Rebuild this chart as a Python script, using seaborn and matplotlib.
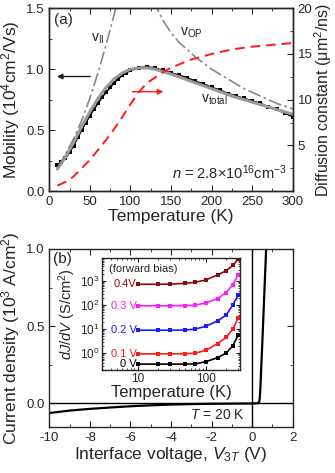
import matplotlib
matplotlib.use("Agg")
import matplotlib.pyplot as plt
import seaborn as sns
from matplotlib.ticker import MultipleLocator, LogLocator, NullFormatter, FixedLocator

# ---- panel (a): mobility vs temperature
temp_meas = [10, 15, 20, 25, 30, 35, 40, 45, 50, 55, 60, 65, 70, 75, 80, 85, 90, 95,
             100, 110, 120, 130, 140, 150, 160, 170, 180, 190, 200, 210, 220, 230,
             240, 250, 260, 270, 280, 290, 300]
mob_meas = [0.21, 0.24, 0.27, 0.32, 0.37, 0.44, 0.50, 0.56, 0.62, 0.67, 0.72, 0.77,
            0.81, 0.85, 0.89, 0.92, 0.95, 0.97, 0.99, 1.01, 1.02, 1.01, 0.99, 0.97,
            0.95, 0.93, 0.90, 0.88, 0.85, 0.83, 0.80, 0.78, 0.76, 0.74, 0.72, 0.69,
            0.67, 0.64, 0.61]

temp_fit = [10, 20, 30, 40, 50, 60, 70, 80, 90, 100, 110, 120, 130, 140, 150, 175,
            200, 225, 250, 275, 300]
mob_fit = [0.18, 0.28, 0.40, 0.53, 0.65, 0.76, 0.85, 0.92, 0.97, 1.00, 1.01, 1.01,
           1.00, 0.98, 0.96, 0.90, 0.84, 0.78, 0.73, 0.68, 0.63]

temp_ii = [10, 20, 30, 40, 50, 60, 70, 80, 85]
mob_ii = [0.19, 0.30, 0.43, 0.58, 0.76, 0.97, 1.20, 1.45, 1.58]

temp_op = [128, 140, 150, 160, 180, 200, 220, 240, 260, 280, 300]
mob_op = [1.57, 1.40, 1.30, 1.22, 1.10, 1.00, 0.92, 0.84, 0.78, 0.72, 0.675]

temp_diff = [10, 20, 30, 40, 50, 60, 70, 80, 90, 100, 110, 120, 130, 140, 150, 175,
             200, 225, 250, 275, 300]
diff_const = [0.6, 1.0, 1.6, 2.5, 3.4, 4.5, 5.6, 6.8, 8.1, 9.5, 10.8, 11.8, 12.4,
              13.0, 13.5, 14.4, 15.0, 15.5, 15.8, 16.0, 16.2]

# ---- panel (b): J-V at 20 K
volt = [-10, -9, -8, -7, -6, -5, -4, -3, -2, -1, 0, 0.2, 0.3, 0.34, 0.37, 0.4,
        0.5, 0.6, 0.7]
cur = [-0.062, -0.046, -0.035, -0.026, -0.018, -0.012, -0.007, -0.004, -0.002,
       -0.001, 0.0, 0.001, 0.002, 0.01, 0.03, 0.09, 0.40, 0.72, 1.04]

# ---- inset: dJ/dV vs temperature (forward bias)
temp_inset = [10, 20, 30, 50, 70, 100, 150, 200, 250, 300]
bias_labels = ["0 V", "0.1 V", "0.2 V", "0.3 V", "0.4V"]
bias_colors = ["black", "#ff1a1a", "#1a1aff", "#ff1aff", "#8b0a0a"]
g_0v = [0.35, 0.35, 0.35, 0.35, 0.36, 0.44, 0.65, 1.0, 2.0, 5.6]
g_01v = [0.93, 0.93, 0.93, 0.95, 1.0, 1.3, 2.5, 4.5, 10, 28]
g_02v = [9, 9, 9, 9.2, 10, 13, 22, 38, 100, 250]
g_03v = [93, 93, 93, 95, 98, 123, 186, 330, 690, 1780]
g_04v = [730, 730, 740, 800, 880, 1100, 1780, 2650, 4400, 8100]

sns.set_style("ticks")
plt.rcParams.update({
    "font.family": ["Liberation Sans", "DejaVu Sans"],
    "mathtext.fontset": "custom",
    "mathtext.rm": "Liberation Sans",
    "mathtext.it": "Liberation Sans:italic",
    "mathtext.bf": "Liberation Sans:bold",
    "axes.unicode_minus": False,
    "axes.linewidth": 1.0,
    "xtick.direction": "in",
    "ytick.direction": "in",
    "xtick.major.size": 4,
    "ytick.major.size": 4,
    "xtick.minor.size": 2,
    "ytick.minor.size": 2,
    "xtick.labelsize": 9.5,
    "ytick.labelsize": 9.5,
    "axes.labelsize": 12.5,
})

fig = plt.figure(figsize=(3.35, 4.73), dpi=100)

# ---------------- (a)
ax_a = fig.add_axes([0.147, 0.596, 0.727, 0.3865])
sns.lineplot(x=temp_meas, y=mob_meas, ax=ax_a, color="black", marker="s",
             markersize=3.5, markeredgewidth=0, linewidth=1.2)
sns.lineplot(x=temp_fit, y=mob_fit, ax=ax_a, color="#9a9a9a", linewidth=2.2)
sns.lineplot(x=temp_ii, y=mob_ii, ax=ax_a, color="#888888", linewidth=1.2,
             linestyle=(0, (8, 2, 1.5, 2)))
sns.lineplot(x=temp_op, y=mob_op, ax=ax_a, color="#888888", linewidth=1.2,
             linestyle=(0, (8, 2, 1.5, 2)))
ax_a.set_xlim(0, 300)
ax_a.set_ylim(0, 1.5)
ax_a.xaxis.set_major_locator(MultipleLocator(50))
ax_a.xaxis.set_minor_locator(MultipleLocator(25))
ax_a.yaxis.set_major_locator(MultipleLocator(0.5))
ax_a.yaxis.set_minor_locator(MultipleLocator(0.25))
ax_a.yaxis.set_major_formatter(matplotlib.ticker.FormatStrFormatter("%.1f"))
ax_a.tick_params(which="both", top=True, right=False)
ax_a.set_xlabel("Temperature (K)", labelpad=1)
ax_a.set_ylabel("Mobility (10$^4$cm$^2$/Vs)", labelpad=3)

ax_r = ax_a.twinx()
sns.lineplot(x=temp_diff, y=diff_const, ax=ax_r, color="#ff1a1a", linewidth=1.4,
             linestyle=(0, (5, 3)))
ax_r.set_ylim(0, 20)
ax_r.yaxis.set_major_locator(FixedLocator([5, 10, 15, 20]))
ax_r.yaxis.set_minor_locator(MultipleLocator(2.5))
ax_r.tick_params(which="both", direction="in", right=True)
ax_r.set_ylabel("Diffusion constant (μm$^2$/ns)", fontsize=11.5, labelpad=0)

ax_a.text(0.02, 0.975, "(a)", transform=ax_a.transAxes, fontsize=11,
          ha="left", va="top")
ax_a.text(60, 1.25, "v$_{\\rm II}$", fontsize=10, ha="center", va="center")
ax_a.text(175, 1.30, "v$_{\\rm OP}$", fontsize=10, ha="center", va="center")
ax_a.text(203, 0.75, "v$_{\\rm total}$", fontsize=10, ha="center", va="center")
ax_a.text(293, 0.15, "$n$ = 2.8×10$^{16}$cm$^{-3}$", fontsize=10.5,
          ha="right", va="center")
ax_a.annotate("", xy=(6, 0.94), xytext=(54, 0.94),
              arrowprops=dict(arrowstyle="-|>", color="#222222", lw=1.0,
                              mutation_scale=8))
ax_r.annotate("", xy=(144, 10.87), xytext=(99, 10.87),
              arrowprops=dict(arrowstyle="-|>", color="#ff1a1a", lw=1.0,
                              mutation_scale=8))

# ---------------- (b)
ax_b = fig.add_axes([0.147, 0.098, 0.727, 0.3756])
ax_b.axhline(0, color="black", lw=1.0)
ax_b.axvline(0, color="black", lw=1.0)
sns.lineplot(x=volt, y=cur, ax=ax_b, color="black", linewidth=1.6)
ax_b.set_xlim(-10, 2)
ax_b.set_ylim(-0.15, 1.0)
ax_b.xaxis.set_major_locator(MultipleLocator(2))
ax_b.xaxis.set_minor_locator(MultipleLocator(1))
ax_b.yaxis.set_major_locator(MultipleLocator(0.5))
ax_b.yaxis.set_minor_locator(MultipleLocator(0.25))
ax_b.yaxis.set_major_formatter(matplotlib.ticker.FormatStrFormatter("%.1f"))
ax_b.tick_params(which="both", top=True, right=True)
ax_b.set_xlabel("Interface voltage, $V_{3T}$ (V)", labelpad=1)
ax_b.set_ylabel("Current density (10$^3$ A/cm$^2$)", labelpad=3)
ax_b.text(0.015, 0.985, "(b)", transform=ax_b.transAxes, fontsize=11,
          ha="left", va="top")
ax_b.text(-0.35, -0.075, "$T$ = 20 K", fontsize=10, ha="right", va="center")

# ---------------- inset
ax_in = fig.add_axes([0.3045, 0.2178, 0.4119, 0.2367])
for vals, lab, col in zip([g_0v, g_01v, g_02v, g_03v, g_04v], bias_labels,
                          bias_colors):
    sns.lineplot(x=temp_inset, y=vals, ax=ax_in, color=col, marker="s",
                 markersize=3.5, markeredgewidth=0, linewidth=1.2)
    ax_in.text(9.6, vals[0], lab, color=col, fontsize=8, ha="right",
               va="center")
ax_in.set_xscale("log")
ax_in.set_yscale("log")
ax_in.set_xlim(3, 320)
ax_in.set_ylim(0.2, 9000)
ax_in.xaxis.set_major_locator(FixedLocator([10, 100]))
ax_in.xaxis.set_major_formatter(matplotlib.ticker.FixedFormatter(["10", "100"]))
ax_in.xaxis.set_minor_locator(LogLocator(base=10, subs=range(2, 10)))
ax_in.xaxis.set_minor_formatter(NullFormatter())
ax_in.yaxis.set_major_locator(LogLocator(base=10, numticks=10))
ax_in.yaxis.set_minor_locator(LogLocator(base=10, subs=range(2, 10), numticks=20))
ax_in.yaxis.set_minor_formatter(NullFormatter())
ax_in.tick_params(which="both", top=True, right=True, labelsize=8.5, pad=2)
ax_in.tick_params(which="major", length=3)
ax_in.tick_params(which="minor", length=1.5)
ax_in.set_xlabel("Temperature (K)", fontsize=12, labelpad=0)
ax_in.set_ylabel("$dJ/dV$ (S/cm$^2$)", fontsize=10.5, labelpad=1)
ax_in.text(0.05, 0.90, "(forward bias)", transform=ax_in.transAxes, fontsize=8,
           ha="left", va="center")

fig.savefig("out.png", dpi=100)
